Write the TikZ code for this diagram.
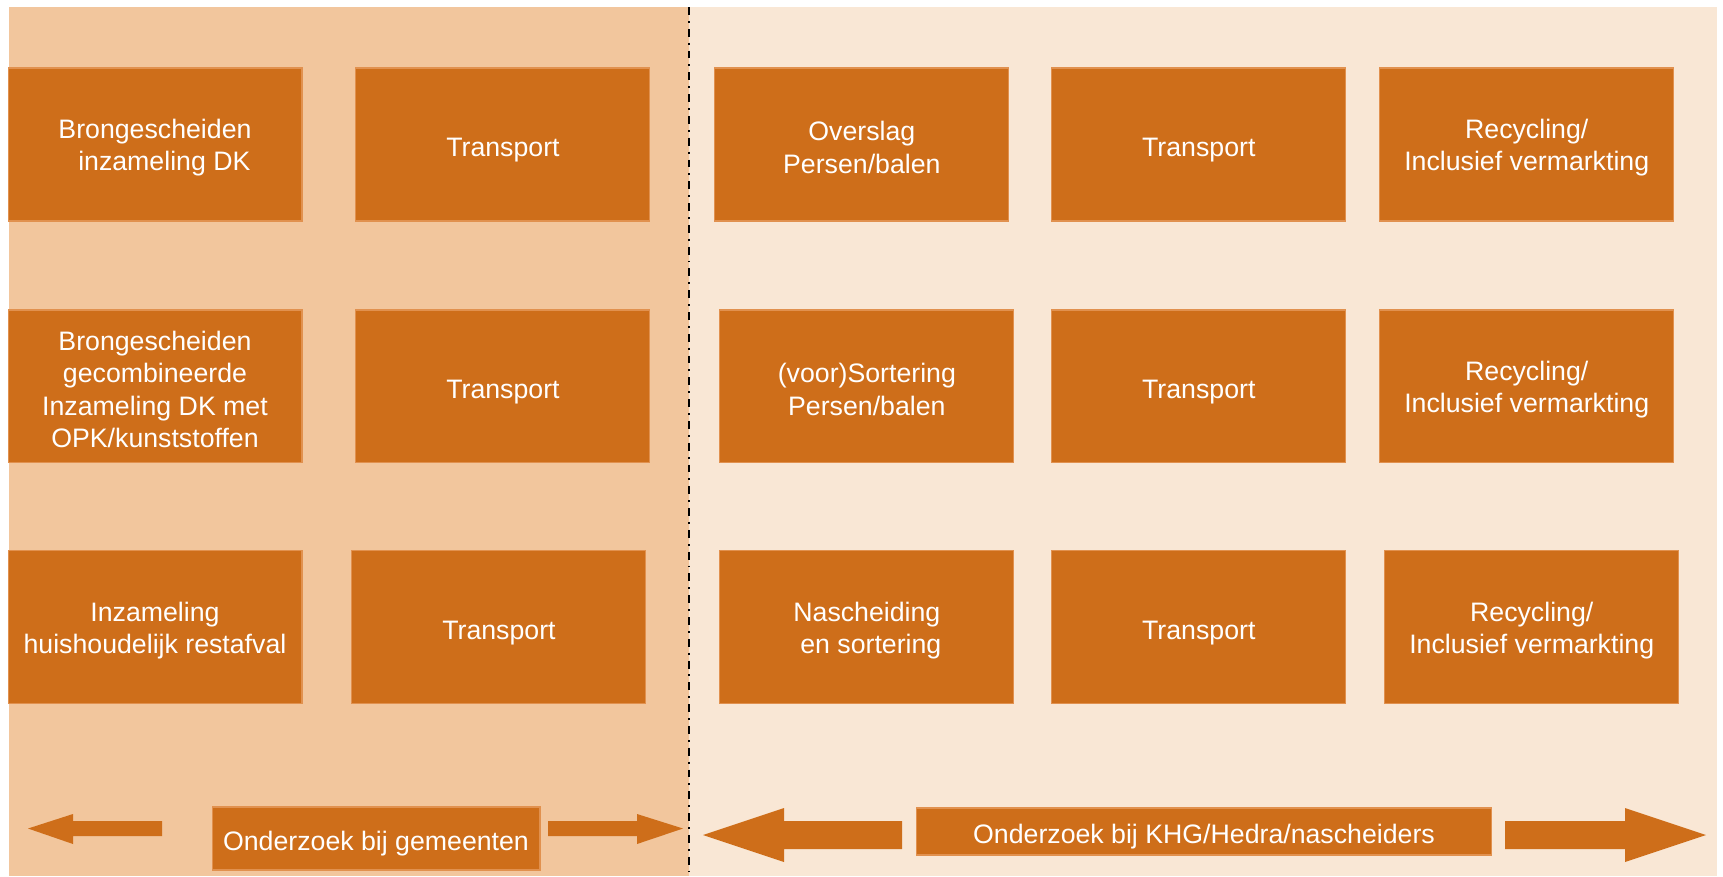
\documentclass[tikz,border=0pt]{standalone}
\usepackage{fontspec}
\setmainfont{Liberation Sans}
\usetikzlibrary{positioning}

\definecolor{boxfill}{HTML}{CE6E1A}
\definecolor{boxedge}{HTML}{E1914F}
\definecolor{leftbg}{HTML}{F2C69D}
\definecolor{rightbg}{HTML}{F9E7D5}

% taller first line so multi-line labels sit a bit lower
\newcommand\capstrut{\rule{0pt}{14.5pt}}

\begin{document}
\begin{tikzpicture}[
    x=0.02cm, y=-0.02cm,
    font=\fontsize{15.2}{18.4}\selectfont,
    node distance=1.77cm and 1.08cm,
    stage/.style={draw=boxedge, line width=0.6pt, fill=boxfill, text=white, align=center, minimum width=5.88cm, minimum height=3.06cm, inner sep=2pt, outer sep=0pt,
        execute at begin node={\rule{0pt}{16.5pt}}},
    survey/.style={draw=boxedge, line width=0.6pt, fill=boxfill, text=white, align=center, inner sep=2pt,
        execute at begin node={\rule{0pt}{17pt}}},
    blockarrow/.style={fill=boxfill},
    divider/.style={line width=1.1pt, dash pattern=on 4.5pt off 3.4pt on 1.1pt off 3.4pt}
]
\useasboundingbox (0,0) rectangle (1723,876);

% ---------- Backgrounds ----------
\fill[leftbg] (9,7) rectangle (689,876);
\fill[rightbg] (689,7) rectangle (1717,876);
\coordinate (divtop) at (689,7);
\coordinate (divbot) at (689,876);
\draw[divider] (divtop) -- (divbot);

% ---------- Row 1 ----------
\node[stage] (bron) at (155,144.5) {\capstrut Brongescheiden\\\hspace*{0.7em}inzameling DK};
\node[stage, right=1.08cm of bron] (trans1) {Transport};
\node[stage, right=1.30cm of trans1] (overslag) {\capstrut Overslag\\Persen/balen};
\node[stage, right=0.86cm of overslag] (trans1b) {Transport};
\node[stage, right=0.68cm of trans1b] (recyc1) {\capstrut Recycling/\\Inclusief vermarkting};

% ---------- Row 2 ----------
\node[stage, below=1.78cm of bron] (gecomb) {\capstrut Brongescheiden\\gecombineerde\\Inzameling DK met\\OPK/kunststoffen};
\node[stage, below=1.78cm of trans1] (trans2) {Transport};
\node[stage, below=1.78cm of overslag, xshift=0.1cm] (sorteer) {\capstrut (voor)Sortering\\Persen/balen};
\node[stage, below=1.78cm of trans1b] (trans2b) {Transport};
\node[stage, below=1.78cm of recyc1] (recyc2) {\capstrut Recycling/\\Inclusief vermarkting};

% ---------- Row 3 ----------
\node[stage, below=1.76cm of gecomb] (rest) {\capstrut Inzameling\\huishoudelijk restafval};
\node[stage, below=1.76cm of trans2, xshift=-0.08cm] (trans3) {Transport};
\node[stage, below=1.76cm of sorteer] (nasch) {\capstrut Nascheiding\\\hspace*{0.3em}en sortering};
\node[stage, below=1.76cm of trans2b] (trans3b) {Transport};
\node[stage, below=1.76cm of recyc2, xshift=0.1cm] (recyc3) {\capstrut Recycling/\\Inclusief vermarkting};

% ---------- Bottom bar ----------
\node[survey, minimum width=6.56cm, minimum height=1.26cm] (gemeenten) at (376,838.5) {Onderzoek bij gemeenten};
\node[survey, minimum width=11.52cm, minimum height=0.94cm] (khg) at (1204,831.5) {Onderzoek bij KHG/Hedra/nascheiders};

% block arrows either side of the bars
\fill[blockarrow] (28,828.5) -- (73,814) -- (73,821) -- (162,821) -- (162,836) -- (73,836) -- (73,844) -- cycle;
\fill[blockarrow] (683,828.5) -- (637,814) -- (637,821) -- (548,821) -- (548,836) -- (637,836) -- (637,844) -- cycle;
\fill[blockarrow] (703,835) -- (784,808) -- (784,821) -- (902,821) -- (902,849) -- (784,849) -- (784,862) -- cycle;
\fill[blockarrow] (1706,835) -- (1625,808) -- (1625,821) -- (1505,821) -- (1505,849) -- (1625,849) -- (1625,862) -- cycle;

\end{tikzpicture}
\end{document}
